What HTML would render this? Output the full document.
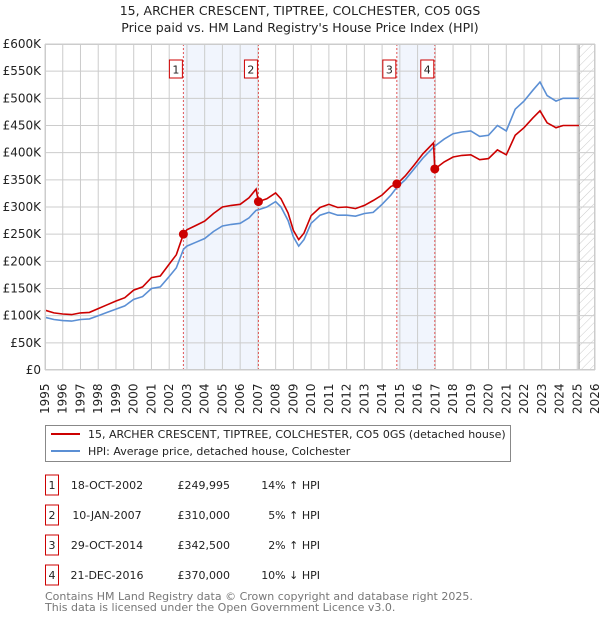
<!DOCTYPE html>
<html><head><meta charset="utf-8">
<style>
body{margin:0;background:#fff;font-family:"DejaVu Sans","Liberation Sans",sans-serif;}
svg text{font-family:"DejaVu Sans","Liberation Sans",sans-serif;}
</style></head>
<body>
<svg id="chart" width="600" height="620" xmlns="http://www.w3.org/2000/svg">
<text x="300" y="15" text-anchor="middle" font-size="12.5" fill="#222">15, ARCHER CRESCENT, TIPTREE, COLCHESTER, CO5 0GS</text>
<text x="300" y="32" text-anchor="middle" font-size="12.5" fill="#222">Price paid vs. HM Land Registry's House Price Index (HPI)</text>
<defs><pattern id="hatch" width="6" height="6" patternUnits="userSpaceOnUse" patternTransform="rotate(45)"><line x1="0" y1="0" x2="0" y2="6" stroke="#ccc" stroke-width="1"/></pattern></defs>
<g id="plot"></g>
<g>
<rect x="45.5" y="425.5" width="465" height="36" fill="#fff" stroke="#888"/>
<line x1="51" y1="434" x2="80" y2="434" stroke="#cc0000" stroke-width="2"/>
<text x="88" y="438" font-size="11" fill="#222">15, ARCHER CRESCENT, TIPTREE, COLCHESTER, CO5 0GS (detached house)</text>
<line x1="51" y1="451" x2="80" y2="451" stroke="#5b8fd4" stroke-width="2"/>
<text x="88" y="455" font-size="11" fill="#222">HPI: Average price, detached house, Colchester</text>
</g>
<g id="table"></g>
<text x="45" y="600" font-size="11" fill="#777">Contains HM Land Registry data © Crown copyright and database right 2025.</text>
<text x="45" y="611" font-size="11" fill="#777">This data is licensed under the Open Government Licence v3.0.</text>
</svg>
<script>
const hpiYears=[1995.0,1995.5,1996.0,1996.5,1997.0,1997.5,1998.0,1998.5,1999.0,1999.5,2000.0,2000.5,2001.0,2001.5,2002.0,2002.4,2002.8,2003.0,2003.5,2004.0,2004.5,2005.0,2005.5,2006.0,2006.5,2006.9,2007.03,2007.5,2008.0,2008.3,2008.7,2009.0,2009.3,2009.6,2010.0,2010.5,2011.0,2011.5,2012.0,2012.5,2013.0,2013.5,2014.0,2014.5,2014.83,2015.3,2015.8,2016.3,2016.9,2016.97,2017.5,2018.0,2018.5,2019.0,2019.5,2020.0,2020.5,2021.0,2021.5,2022.0,2022.5,2022.9,2023.3,2023.8,2024.2,2024.7,2025.1];
const hpiValues=[97,93,91,90,93,94,100,106,112,118,130,135,150,153,172,188,222,228,235,242,255,265,268,270,280,294,295,300,310,300,275,245,228,240,270,285,290,285,285,283,288,290,305,322,336,350,370,390,410,412,425,435,438,440,430,432,450,440,480,495,515,530,505,495,500,500,500];
const priceValues=[110,105,103,102,105,106,113,120,127,133,147,153,170,173,195,212,250,258,266,274,288,300,303,305,317,333,310,315,326,315,289,257,240,252,284,299,305,299,300,297,303,312,322,338,342,357,377,398,418,370,383,392,395,396,387,389,405,396,432,446,464,477,455,446,450,450,450];
const saleDates=[2002.8,2007.03,2014.83,2016.97];
const saleValues=[249995,310000,342500,370000];
const saleLabels=["1","2","3","4"];
const saleDateText=["18-OCT-2002","10-JAN-2007","29-OCT-2014","21-DEC-2016"];
const salePriceText=["£249,995","£310,000","£342,500","£370,000"];
const saleHpiText=["14% ↑ HPI","5% ↑ HPI","2% ↑ HPI","10% ↓ HPI"];
const yTicks=[0,50,100,150,200,250,300,350,400,450,500,550,600];
const yTickLabels=["£0","£50K","£100K","£150K","£200K","£250K","£300K","£350K","£400K","£450K","£500K","£550K","£600K"];
const xYears=[1995,1996,1997,1998,1999,2000,2001,2002,2003,2004,2005,2006,2007,2008,2009,2010,2011,2012,2013,2014,2015,2016,2017,2018,2019,2020,2021,2022,2023,2024,2025,2026];

const NS="http://www.w3.org/2000/svg";
const X0=45,X1=595,Y0=370,Y1=44;
function xs(t){return X0+(t-1995)/(2026-1995)*(X1-X0);}
function ys(v){return Y0-v/600*(Y0-Y1);}
const plot=document.getElementById('plot');
function mk(tag,attrs,parent){const e=document.createElementNS(NS,tag);for(const k in attrs)e.setAttribute(k,attrs[k]);(parent||plot).appendChild(e);return e;}

mk('rect',{x:X0,y:Y1,width:X1-X0,height:Y0-Y1,fill:'#fff'});
for(let i=0;i<saleDates.length;i+=2){
 const r=mk('rect',{x:xs(saleDates[i]),y:Y1,width:xs(saleDates[i+1])-xs(saleDates[i]),height:Y0-Y1,fill:'#eef3fc',opacity:0.8});
 
 
}
const h=mk('rect',{x:xs(2025.1),y:Y1,width:X1-xs(2025.1),height:Y0-Y1,fill:'url(#hatch)'});


mk('line',{x1:xs(2025.1),y1:Y1,x2:xs(2025.1),y2:Y0,stroke:'#888',"stroke-width":1});
yTicks.forEach((v,i)=>{
 mk('line',{x1:X0,y1:ys(v),x2:X1,y2:ys(v),stroke:'#ccc',"stroke-width":1});
 const t=mk('text',{x:X0-4,y:ys(v)+4,"text-anchor":"end","font-size":"12",fill:'#222'});
 t.textContent=yTickLabels[i];
 
 
});
xYears.forEach(yr=>{
 mk('line',{x1:xs(yr),y1:Y1,x2:xs(yr),y2:Y0,stroke:'#ccc',"stroke-width":1});
 const t=mk('text',{transform:`translate(${xs(yr)+4},${Y0+44}) rotate(-90)`,"font-size":"12",fill:'#222'});
 t.textContent=yr;
 
 
});
saleDates.forEach(d=>{mk('line',{x1:xs(d),y1:Y1,x2:xs(d),y2:Y0,stroke:'#e05555',"stroke-width":1,"stroke-dasharray":"2,2"});});
function pts(vals){return hpiYears.map((t,i)=>xs(t).toFixed(1)+','+ys(vals[i]).toFixed(1)).join(' ');}
const hl=mk('polyline',{points:pts(hpiValues),fill:'none',stroke:'#5b8fd4',"stroke-width":1.6});


const pl=mk('polyline',{points:pts(priceValues),fill:'none',stroke:'#cc0000',"stroke-width":1.6});


saleDates.forEach((d,i)=>{
 const c=mk('circle',{cx:xs(d),cy:ys(saleValues[i]/1000),r:4.5,fill:'#cc0000'});
 
 
 const g=mk('g',{});
 
 
 mk('rect',{x:xs(d)-14,y:60,width:13,height:18,fill:'#fff',stroke:'#cc0000'},g);
 const t=mk('text',{x:xs(d)-7.5,y:73.5,"text-anchor":"middle","font-size":"11",fill:'#222'},g);
 t.textContent=saleLabels[i];
});
mk('rect',{x:X0+0.5,y:Y1+0.5,width:X1-X0-1,height:Y0-Y1-1,fill:'none',stroke:'#ccc'});
const tb=document.getElementById('table');
saleLabels.forEach((l,i)=>{
 const cy=485+i*30;
 const g=mk('g',{},tb);
 
 
 mk('rect',{x:45.5,y:cy-10,width:13,height:20,fill:'#fff',stroke:'#cc0000'},g);
 const a=mk('text',{x:52,y:cy+4,"text-anchor":"middle","font-size":"11",fill:'#222'},g);a.textContent=l;
 const b=mk('text',{x:107,y:cy+4,"text-anchor":"middle","font-size":"11",fill:'#222'},g);b.textContent=saleDateText[i];
 const c=mk('text',{x:230,y:cy+4,"text-anchor":"end","font-size":"11",fill:'#222'},g);c.textContent=salePriceText[i];
 const d=mk('text',{x:320,y:cy+4,"text-anchor":"end","font-size":"11",fill:'#222'},g);d.textContent=saleHpiText[i];
});
</script>
</body></html>
